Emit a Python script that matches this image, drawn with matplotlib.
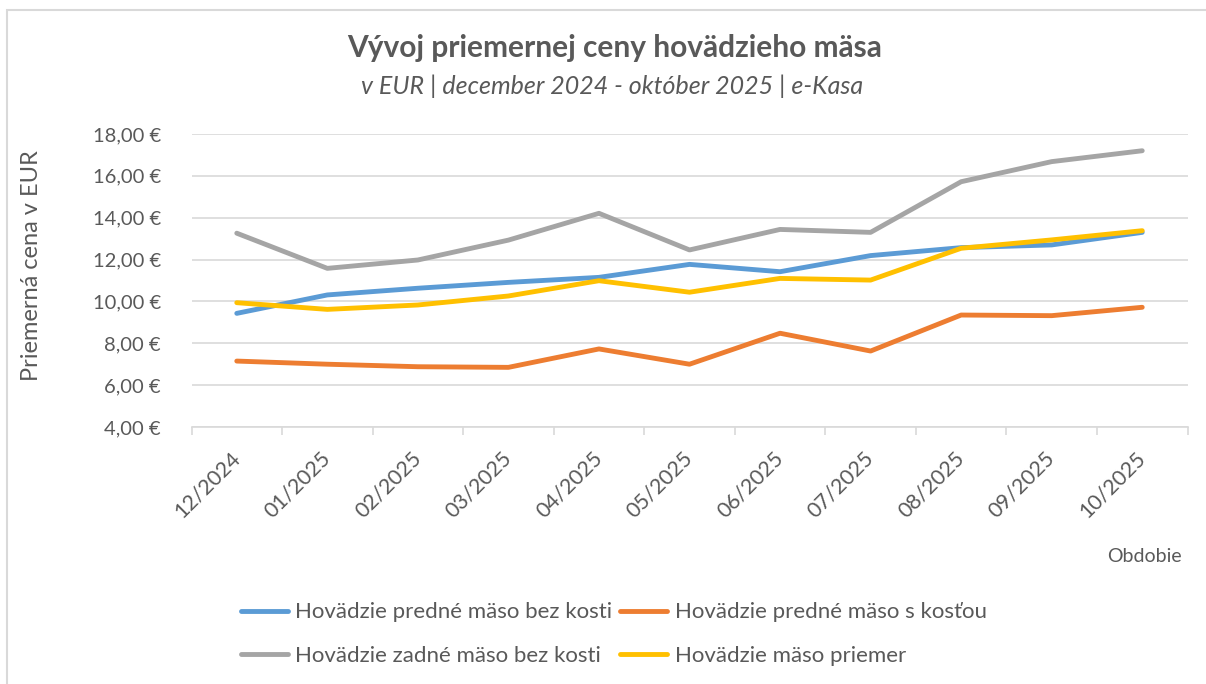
import matplotlib.pyplot as plt
from matplotlib.patches import Rectangle
from matplotlib.ticker import FuncFormatter

months = ["12/2024", "01/2025", "02/2025", "03/2025", "04/2025", "05/2025",
          "06/2025", "07/2025", "08/2025", "09/2025", "10/2025"]

predne_bez_kosti = [9.43, 10.31, 10.63, 10.91, 11.15, 11.77, 11.42, 12.19, 12.57, 12.70, 13.30]
predne_s_kostou = [7.15, 7.00, 6.88, 6.85, 7.73, 7.00, 8.48, 7.63, 9.35, 9.32, 9.72]
zadne_bez_kosti = [13.26, 11.58, 11.98, 12.93, 14.21, 12.46, 13.44, 13.30, 15.72, 16.68, 17.20]
priemer = [9.94, 9.62, 9.83, 10.26, 10.99, 10.44, 11.10, 11.02, 12.54, 12.94, 13.38]

plt.rcParams['font.family'] = ['Lato', 'DejaVu Sans']
txt = "#595959"
grid = "#D9D9D9"

fig = plt.figure(figsize=(12.06, 6.84), dpi=100)
fig.patches.append(Rectangle((7 / 1206, -0.1), 1.2, (684 - 10) / 684 + 0.1,
                             transform=fig.transFigure, fill=False,
                             edgecolor=grid, linewidth=1.5))

ax = fig.add_axes([191.5 / 1206, 1 - 427 / 684, (1187.5 - 191.5) / 1206, (427 - 134) / 684])

x = list(range(len(months)))
l1, = ax.plot(x, predne_bez_kosti, color="#5B9BD5", lw=3.5, solid_capstyle="round",
              label="Hovädzie predné mäso bez kosti")
l2, = ax.plot(x, predne_s_kostou, color="#ED7D31", lw=3.5, solid_capstyle="round",
              label="Hovädzie predné mäso s kosťou")
l3, = ax.plot(x, zadne_bez_kosti, color="#A5A5A5", lw=3.5, solid_capstyle="round",
              label="Hovädzie zadné mäso bez kosti")
l4, = ax.plot(x, priemer, color="#FFC000", lw=3.5, solid_capstyle="round",
              label="Hovädzie mäso priemer")

ax.set_xlim(-0.5, len(months) - 0.5)
ax.set_ylim(4, 18)
ax.set_yticks(range(4, 19, 2))
ax.yaxis.set_major_formatter(FuncFormatter(lambda v, p: f"{v:.2f}".replace(".", ",") + " €"))
ax.grid(axis="y", color=grid, lw=1.2)
ax.set_axisbelow(True)

ax.set_xticks(x)
ax.set_xticklabels(months, rotation=45, ha="right", va="center", rotation_mode="anchor")
ax.set_xticks([i - 0.5 for i in range(len(months) + 1)], minor=True)
ax.tick_params(axis="x", which="major", length=0, pad=20, labelsize=15.5, labelcolor=txt)
ax.tick_params(axis="x", which="minor", length=6, width=1.2, color=grid)
ax.tick_params(axis="y", length=0, pad=22, labelsize=14.5, labelcolor=txt)

for s in ["top", "right", "left"]:
    ax.spines[s].set_visible(False)
ax.spines["bottom"].set_color(grid)
ax.spines["bottom"].set_linewidth(1.2)

ax.set_ylabel("Priemerná cena v EUR", fontsize=17, color=txt)
ax.yaxis.set_label_coords(-(191.5 - 42) / 996, (427 - 265.5) / 293)

fig.text(0.5 * (346 + 884) / 1206, 1 - 48 / 684, "Vývoj priemernej ceny hovädzieho mäsa",
         ha="center", va="center", fontsize=21.5, fontweight="bold", color=txt)
fig.text(0.5 * (357 + 868) / 1206, 1 - 86 / 684, "v EUR | december 2024 - október 2025 | e-Kasa",
         ha="center", va="center", fontsize=18, style="italic", color=txt)
fig.text(1182 / 1206, 1 - 556 / 684, "Obdobie", ha="right", va="center", fontsize=14, color=txt)

fig.legend([l1, l3, l2, l4], [l1.get_label(), l3.get_label(), l2.get_label(), l4.get_label()],
           ncol=2, loc="center left", bbox_to_anchor=(221 / 1206, 1 - 634 / 684),
           frameon=False, fontsize=16, handlelength=2.1, handletextpad=0.35,
           columnspacing=0.35, labelspacing=1.05, labelcolor=txt)

fig.savefig("out.png")
